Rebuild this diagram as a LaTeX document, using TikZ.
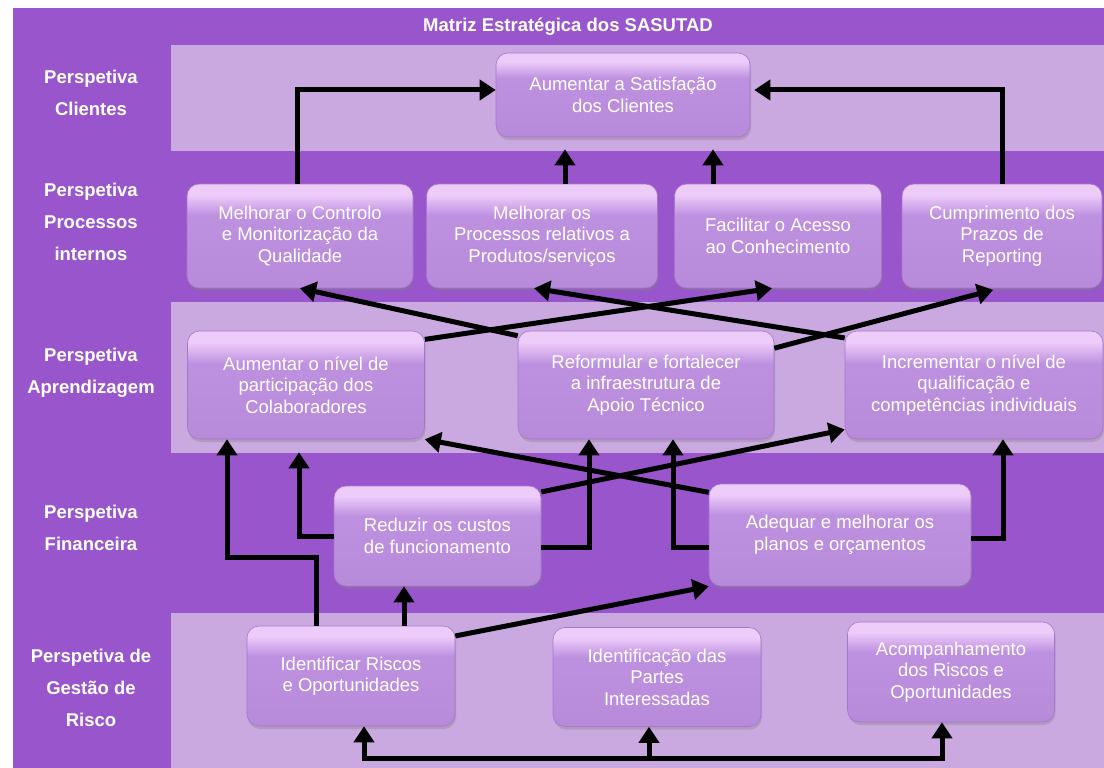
\documentclass[tikz,border=0pt]{standalone}
\usepackage{fontspec}
\setmainfont{Liberation Sans}
\usetikzlibrary{arrows.meta,shadows}

\definecolor{bandDark}{RGB}{153,85,204}
\definecolor{bandLight}{RGB}{202,169,224}
\definecolor{boxFill}{RGB}{183,138,218}
\definecolor{boxMid}{RGB}{190,145,224}
\definecolor{boxTop}{RGB}{238,204,250}
\definecolor{boxEdge}{RGB}{165,118,205}
\pgfdeclareverticalshading{goalshade}{100bp}{color(0bp)=(boxFill); color(25bp)=(boxFill);
    color(60bp)=(boxMid); color(70bp)=(boxTop); color(75bp)=(boxTop); color(100bp)=(boxTop)}
\newcommand\goalfont{\fontsize{18.5}{21.5}\selectfont}
\newcommand\perspfont{\fontsize{18.5}{32}\selectfont\bfseries}

\begin{document}
\begin{tikzpicture}[x=1pt,y=-1pt,>={Triangle[length=16pt,width=20pt]},
        goal/.style={draw=boxEdge,line width=0.6pt,rounded corners=12pt,
            shading=goalshade,
            text=white,align=center,font=\goalfont,
            drop shadow={opacity=0.35,shadow xshift=1pt,shadow yshift=-3pt}},
        persp/.style={text=white,align=center,font=\perspfont},
        link/.style={->,line width=5pt,black,line join=miter}]
        \useasboundingbox (0,0) rectangle (1104,768);
        \fill[bandDark] (12.5,8) rectangle (1104,768);
        \fill[bandLight] (171,45) rectangle (1104,151);
        \fill[bandLight] (171,302) rectangle (1104,453);
        \fill[bandLight] (171,613) rectangle (1104,768);

        \node[text=white,font=\fontsize{18.5}{22}\selectfont\bfseries] (title) at (568,27) {Matriz Estratégica dos SASUTAD};

        \node[persp] (pclientes) at (91,93) {Perspetiva\\Clientes};
        \node[persp] (pprocessos) at (91,222) {Perspetiva\\Processos\\internos};
        \node[persp] (paprendizagem) at (91,373) {Perspetiva\\Aprendizagem};
        \node[persp] (pfinanceira) at (91,528) {Perspetiva\\Financeira};
        \node[persp] (prisco) at (91,688) {Perspetiva de\\Gestão de\\Risco};

        \node[goal,minimum width=254pt,minimum height=84pt] (satisf) at (623,95) {Aumentar a Satisfação\\dos Clientes};

        \node[goal,minimum width=226pt,minimum height=104pt] (controlo) at (300,236) {Melhorar o Controlo\\e Monitorização da\\Qualidade};
        \node[goal,minimum width=231pt,minimum height=104pt] (processos) at (542,236) {Melhorar os\\Processos relativos a\\Produtos/serviços};
        \node[goal,minimum width=207pt,minimum height=104pt] (acesso) at (778,236) {Facilitar o Acesso\\ao Conhecimento};
        \node[goal,minimum width=200pt,minimum height=104pt] (prazos) at (1002,236) {Cumprimento dos\\Prazos de\\Reporting};

        \node[goal,minimum width=237pt,minimum height=108pt] (participacao) at (306,385) {Aumentar o nível de\\participação dos\\Colaboradores};
        \node[goal,minimum width=256pt,minimum height=108pt] (apoio) at (646,385) {Reformular e fortalecer\\a infraestrutura de\\Apoio Técnico};
        \node[goal,minimum width=258pt,minimum height=108pt] (qualificacao) at (974,385) {Incrementar o nível de\\qualificação e\\competências individuais};

        \node[goal,minimum width=207pt,minimum height=100pt] (custos) at (437.5,536) {Reduzir os custos\\de funcionamento};
        \node[goal,minimum width=262pt,minimum height=102pt] (planos) at (840,535) {Adequar e melhorar os\\planos e orçamentos};

        \node[goal,minimum width=208pt,minimum height=100pt] (riscos) at (351,676) {Identificar Riscos\\e Oportunidades};
        \node[goal,minimum width=208pt,minimum height=99pt] (partes) at (657,677) {Identificação das\\Partes\\Interessadas};
        \node[goal,minimum width=207pt,minimum height=100pt] (acompanhamento) at (951,672) {Acompanhamento\\dos Riscos e\\Oportunidades};

        % processos internos -> clientes
        \draw[link] ([xshift=-3pt]controlo.north) |- ([yshift=5pt]satisf.west);
        \draw[link,shorten >=12pt] ([xshift=23pt]processos.north) -- ([xshift=-58pt]satisf.south);
        \draw[link,shorten >=12pt] ([xshift=-65pt]acesso.north) -- ([xshift=90pt]satisf.south);
        \draw[link,shorten >=4pt] (prazos.north) |- ([yshift=5pt]satisf.east);

        % aprendizagem -> processos internos
        \draw[link] (apoio.159) -- (controlo.south);
        \draw[link] (participacao.21) -- ([xshift=-6pt]acesso.south);
        \draw[link] (qualificacao.160) -- ([xshift=-8pt]processos.south);
        \draw[link,shorten >=6pt] (apoio.16) -- ([xshift=-3pt]prazos.south);

        % financeira -> aprendizagem
        \draw[link,shorten >=13pt] (custos.west) -| ([xshift=-7pt]participacao.south);
        \draw[link] ([yshift=-11pt]custos.east) -| ([xshift=-57pt]apoio.south);
        \draw[link] (custos.23) -- (qualificacao.199);
        \draw[link] (planos.162) -- (participacao.south east);
        \draw[link] ([yshift=-12pt]planos.west) -| ([xshift=27pt]apoio.south);
        \draw[link] ([yshift=-3pt]planos.east) -| ([xshift=29pt]qualificacao.south);

        % risco -> financeira / aprendizagem
        \draw[link] ([xshift=-35pt]riscos.north) |- ([xshift=-79pt,yshift=-118pt]participacao.south) -- ([xshift=-79pt]participacao.south);
        \draw[link] ([xshift=53pt]riscos.north) -- ([xshift=-33.5pt]custos.south);
        \draw[link] (riscos.21) -- (planos.south west);

        \coordinate (loopM) at (649,758);
        \draw[link] (loopM) -| ([xshift=13pt]riscos.south);
        \draw[link] (loopM) -- ([xshift=-8pt]partes.south);
        \draw[link] (loopM) -| ([xshift=-9pt]acompanhamento.south);
    \end{tikzpicture}
\end{document}
